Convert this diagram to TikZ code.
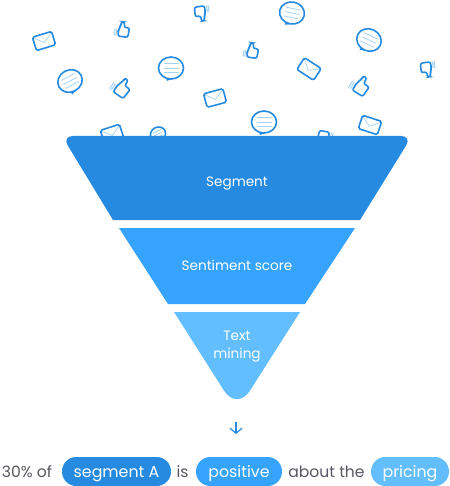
\documentclass[tikz,border=0pt]{standalone}
\usepackage{fontspec}
\setmainfont{Poppins}
\usetikzlibrary{arrows.meta}
\definecolor{deep}{HTML}{268AE0}
\definecolor{midb}{HTML}{36A3FF}
\definecolor{lite}{HTML}{62BEFF}
\definecolor{pale}{HTML}{A6D3F5}
\definecolor{ink}{HTML}{5A5562}
\tikzset{
  envelope/.pic={
    \draw[pale, line width=.7pt] (-9.5,-6) -- (0,1.5) -- (9.5,-6);
    \draw[ol] (-10,-7) rectangle (10,7);
  },
  bubble/.pic={
    \fill[deep] (-4,8) -- (-4.5,13) -- (3,10.5) -- cycle;
    \draw[ol, fill=white] (0,0) ellipse (12.5 and 11);
    \foreach \y in {-4.5,0,4.5} \draw[pale, line width=.8pt] (-7.5,\y) -- (7.5,\y);
  },
  thumb/.pic={
    \draw[pale, line width=1pt] (-8.5,0) -- (-8.5,7) (-6.7,0) -- (-6.7,7);
    \draw[ol, rounded corners=2pt] (-4.5,-1) -- (-2.8,-4) -- (-3,-8.5) -- (.6,-8.5) -- (.8,-3) -- (6.5,-3) -- (6,7) -- (-4.5,7) -- cycle;
  }
}
\begin{document}
\begin{tikzpicture}[x=1pt, y=-1pt,
  ol/.style={draw=deep, line width=1.6pt, rounded corners=1.6pt},
  lb/.style={text=white, font=\fontsize{13.6}{18}\selectfont, align=center, inner sep=0pt},
  pill/.style={rounded corners=14.4pt, minimum height=29pt, inner sep=0pt, text=white, text height=13pt, text depth=2pt, font=\fontsize{15.8}{19}\selectfont},
  wd/.style={text=ink, font=\fontsize{15.6}{19}\selectfont, inner sep=0pt, anchor=base}]
  \useasboundingbox (0,0) rectangle (449,486);
  % icons above the funnel
  \pic[rotate=17] at (44,41) {envelope};
  \pic[rotate=15] at (215,98) {envelope};
  \pic[rotate=18] at (112,134) {envelope};
  \pic[rotate=-33] at (309,69) {envelope};
  \pic[rotate=-18] at (370,125) {envelope};
  \pic at (171,68) {bubble};
  \pic[rotate=28] at (70,81) {bubble};
  \pic[rotate=-12] at (292,13) {bubble};
  \pic[rotate=-25] at (369,40) {bubble};
  \pic at (264,122) {bubble};
  \pic[rotate=25, scale=.62] at (158,134) {bubble};
  \pic[rotate=-8, scale=.95] at (123,30) {thumb};
  \pic[rotate=-35, scale=1.15] at (122,88) {thumb};
  \pic[rotate=-8, scale=.95] at (252,51) {thumb};
  \pic[rotate=-32, scale=1.15] at (361,86) {thumb};
  \pic[rotate=188, scale=.95] at (201,13) {thumb};
  \pic[rotate=188, scale=.95] at (427,69) {thumb};
  \pic[rotate=170, scale=.95] at (324,138) {thumb};
  % funnel
  \fill[deep] (113,220) [rounded corners=11pt] -- (62,136) -- (412,136) [sharp corners] -- (360,220) -- cycle;
  \fill[midb] (119,228) -- (355,228) -- (305,304) -- (168,304) -- cycle;
  \fill[lite] (174,312) -- (300,312) [rounded corners=24pt] -- (237,411) [sharp corners] -- cycle;
  \node[lb] (seg) at (237,184) {Segment};
  \node[lb] (sent) at (237,265) {Sentiment score};
  \node[lb] (txt) at (237,347) {Text\\mining};
  % result
  \coordinate (from) at (236,422);
  \coordinate (to) at (236,434);
  \draw[deep, line width=1.2pt, -{Straight Barb[length=5pt,width=12pt]}] (from) -- (to);
  \node[wd] (pct) at (27,477.5) {30\% of};
  \node[pill, fill=deep, minimum width=109pt] (a) at (116.5,471.5) {segment A};
  \node[wd] (is) at (182.5,477.5) {is};
  \node[pill, fill=midb, minimum width=86pt] (b) at (239,471.5) {positive};
  \node[wd] (abt) at (326.5,477.5) {about the};
  \node[pill, fill=lite, minimum width=78pt] (c) at (410,471.5) {pricing};
\end{tikzpicture}
\end{document}
